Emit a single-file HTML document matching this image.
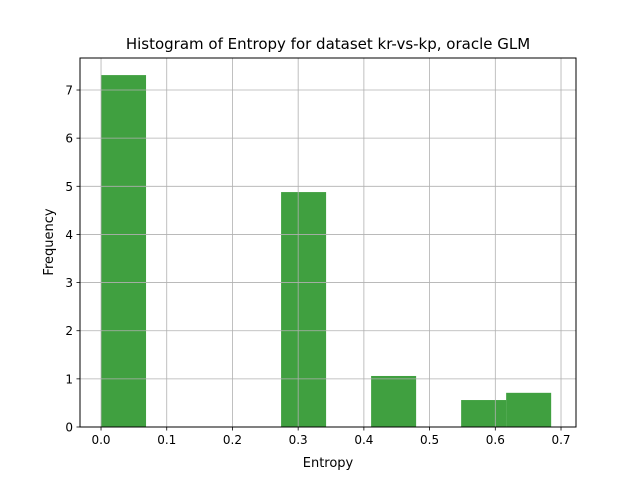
<!DOCTYPE html>
<html><head><meta charset="utf-8"><style>body{margin:0;background:#fff}svg{display:block}text{font-family:"DejaVu Sans","Liberation Sans",sans-serif;fill:#000}</style></head>
<body>
<svg width="640" height="480" viewBox="0 0 640 480" xmlns="http://www.w3.org/2000/svg">
<rect width="640" height="480" fill="#fff"/>
<g id="bars"></g>
<g id="grid"></g>
<rect x="80" y="58" width="496" height="369" fill="none" stroke="#000" stroke-width="1"/>
<g id="ticks"></g>
<text x="328" y="49" font-size="15" text-anchor="middle">Histogram of Entropy for dataset kr-vs-kp, oracle GLM</text>
<text x="328" y="467" font-size="13" text-anchor="middle">Entropy</text>
<text x="53" y="242" font-size="13" text-anchor="middle" transform="rotate(-90 53 242)">Frequency</text>
</svg>
<script>
const binStart = 0;
const binWidth = 0.0685;
const counts = [7.31, 0, 0, 0, 4.88, 0, 1.06, 0, 0.56, 0.71];
const xTicks = [0, 0.1, 0.2, 0.3, 0.4, 0.5, 0.6, 0.7];
const xTickLabels = ["0.0","0.1","0.2","0.3","0.4","0.5","0.6","0.7"];
const yTicks = [0, 1, 2, 3, 4, 5, 6, 7];
const xMin=-0.032, xMax=0.7228, yMin=0, yMax=7.665;
const L=80,R=576,T=58,B=427;
const sx=v=>L+(v-xMin)/(xMax-xMin)*(R-L);
const sy=v=>B-(v-yMin)/(yMax-yMin)*(B-T);
const NS="http://www.w3.org/2000/svg";
function mk(tag,attrs,parent){const e=document.createElementNS(NS,tag);for(const k in attrs)e.setAttribute(k,attrs[k]);parent.appendChild(e);return e;}
const bars=document.getElementById('bars'),grid=document.getElementById('grid'),ticks=document.getElementById('ticks');
counts.forEach((c,i)=>{if(c<=0)return;const x0=sx(binStart+i*binWidth),x1=sx(binStart+(i+1)*binWidth);
const r=mk('rect',{x:x0,y:sy(c),width:x1-x0,height:sy(0)-sy(c),fill:'#008000','fill-opacity':0.75},bars);

});
xTicks.forEach((v,i)=>{const x=sx(v);
const g=mk('line',{x1:x,x2:x,y1:T,y2:B,stroke:'#b0b0b0','stroke-width':0.8},grid);


mk('line',{x1:x,x2:x,y1:B,y2:B+3.5,stroke:'#000','stroke-width':0.8},ticks);
const t=mk('text',{x:x,y:B+17,'font-size':12,'text-anchor':'middle'},ticks);t.textContent=xTickLabels[i];

});
yTicks.forEach(v=>{const y=sy(v);
const g=mk('line',{x1:L,x2:R,y1:y,y2:y,stroke:'#b0b0b0','stroke-width':0.8},grid);


mk('line',{x1:L-3.5,x2:L,y1:y,y2:y,stroke:'#000','stroke-width':0.8},ticks);
const t=mk('text',{x:L-7,y:y+4.5,'font-size':12,'text-anchor':'end'},ticks);t.textContent=String(v);

});
</script>
</body></html>
